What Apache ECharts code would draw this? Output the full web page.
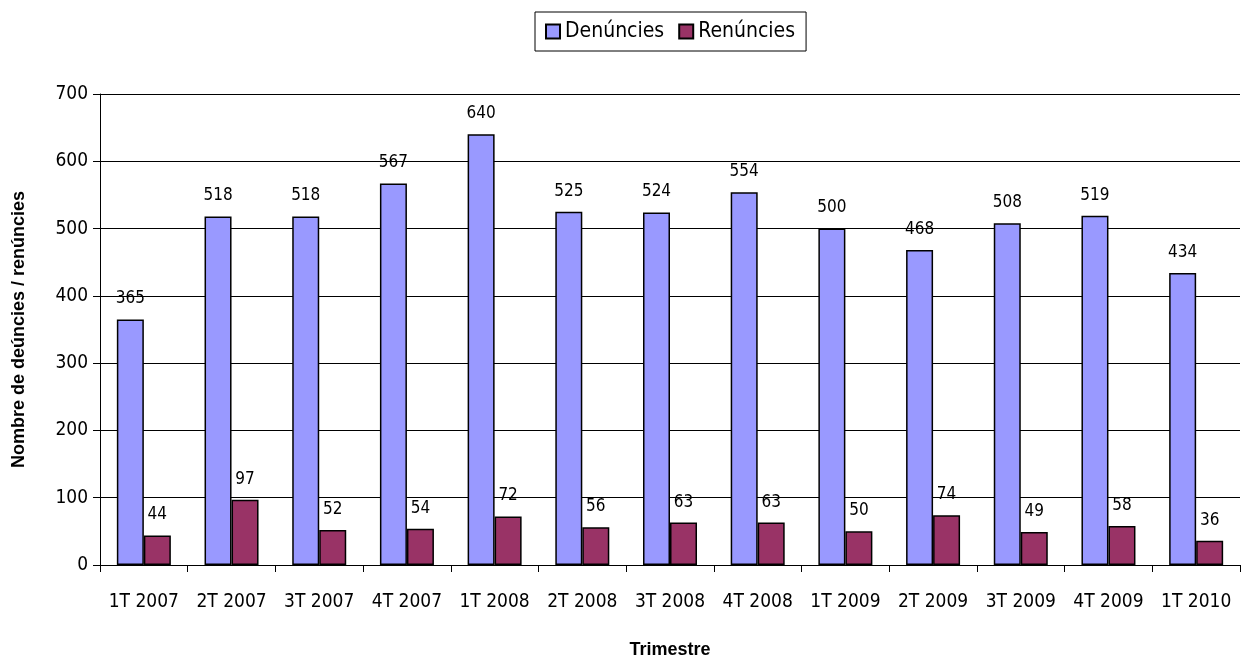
<!DOCTYPE html>
<html><head><meta charset="utf-8">
<script src="https://cdn.jsdelivr.net/npm/echarts@6/dist/echarts.min.js"></script>
<style>html,body{margin:0;padding:0;background:#fff}#c{width:1241px;height:657px}</style>
</head><body><div id="c"></div>
<script>
const categories = ["1T 2007","2T 2007","3T 2007","4T 2007","1T 2008","2T 2008","3T 2008","4T 2008","1T 2009","2T 2009","3T 2009","4T 2009","1T 2010"];
const denuncies = [365,518,518,567,640,525,524,554,500,468,508,519,434];
const renuncies = [44,97,52,54,72,56,63,63,50,74,49,58,36];
const yTicks = [0,100,200,300,400,500,600,700];
const FONT = '"DejaVu Sans Condensed","Liberation Sans",Arial,sans-serif';
const chart = echarts.init(document.getElementById('c'));
const lbl = {show:true, position:'top', distance:12, color:'#000', fontFamily:FONT, fontSize:17};
chart.setOption({
  animation:false,
  textStyle:{fontFamily:FONT},
  legend:{
    top:12, left:535, itemWidth:14, itemHeight:14, itemGap:14,
    borderColor:'#000', borderWidth:1, padding:[9,11,9,10],
    textStyle:{fontFamily:FONT, fontSize:21, color:'#000'},
    data:[{name:'Denúncies', icon:'rect'},{name:'Renúncies', icon:'rect'}]
  },
  grid:{left:100, right:1, top:94, bottom:92, outerBoundsMode:'none', containLabel:false},
  xAxis:{
    type:'category', data:categories,
    axisLine:{lineStyle:{color:'#000'}},
    axisTick:{show:true, length:7, lineStyle:{color:'#000'}},
    axisLabel:{color:'#000', fontSize:19, fontFamily:FONT, margin:28, interval:0},
    name:'Trimestre', nameLocation:'middle', nameGap:76,
    nameTextStyle:{fontWeight:'bold', fontSize:18, color:'#000', fontFamily:'"Liberation Sans",Arial,sans-serif'}
  },
  yAxis:{
    type:'value', min:0, max:700, interval:100,
    axisLine:{show:true, lineStyle:{color:'#000'}},
    axisTick:{show:true, length:7, lineStyle:{color:'#000'}},
    splitLine:{lineStyle:{color:'#000', width:1}},
    axisLabel:{color:'#000', fontSize:19, fontFamily:FONT, margin:12,
      formatter:v=>yTicks.includes(v)?String(v):''},
    name:'Nombre de deúncies / renúncies', nameLocation:'middle', nameGap:72, nameRotate:90,
    nameTextStyle:{fontWeight:'bold', fontSize:18, color:'#000', fontFamily:'"Liberation Sans",Arial,sans-serif'}
  },
  series:[
    {name:'Denúncies', type:'bar', data:denuncies, barWidth:27, barGap:'0%',
     itemStyle:{color:'#9999FF', borderColor:'#000', borderWidth:1.5}, label:lbl},
    {name:'Renúncies', type:'bar', data:renuncies, barWidth:27,
     itemStyle:{color:'#993366', borderColor:'#000', borderWidth:1.5}, label:lbl}
  ]
});
</script></body></html>
